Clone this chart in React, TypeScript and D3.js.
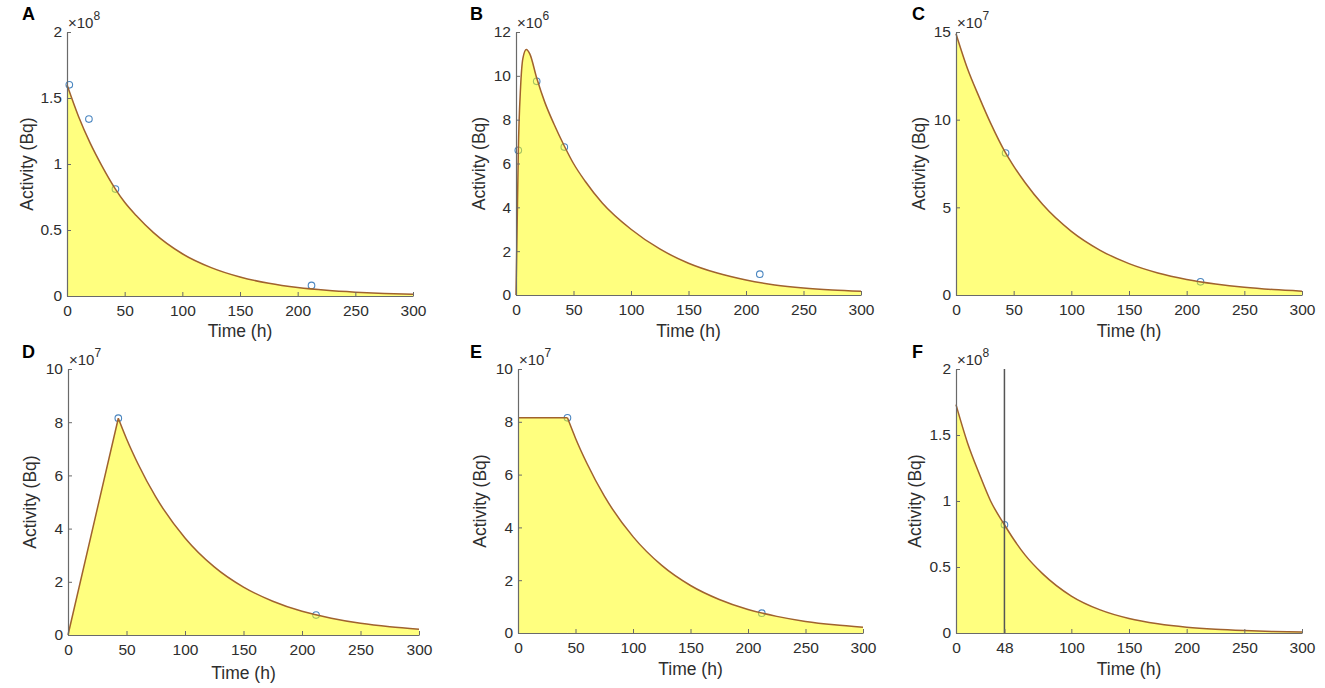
import React, { useRef, useEffect } from "react";
import * as d3 from "d3";

// Curves (activity in units of the panel's 10^n multiplier)
const timeA = [0, 10, 20, 30, 42, 50, 60, 75, 100, 125, 150, 175, 200, 225, 250, 275, 300];
const activityA = [1.6, 1.36, 1.16, 0.99, 0.81, 0.71, 0.61, 0.48, 0.32, 0.215, 0.144, 0.096, 0.064, 0.043, 0.029, 0.019, 0.013];
const measuredTimeA = [2, 19, 42, 212];
const measuredA = [1.6, 1.34, 0.81, 0.08];

const timeB = [0, 1, 2, 4, 6, 9, 12, 18, 25, 33, 42, 50, 60, 75, 100, 125, 150, 175, 200, 225, 250, 275, 300];
const activityB = [0, 3.2, 6.5, 9.5, 10.8, 11.2, 11.0, 9.9, 8.8, 7.8, 6.8, 6.0, 5.2, 4.2, 3.0, 2.1, 1.45, 1.0, 0.68, 0.46, 0.32, 0.23, 0.17];
const measuredTimeB = [2, 18, 42, 212];
const measuredB = [6.6, 9.75, 6.75, 0.95];

const timeC = [0, 10, 20, 30, 43, 50, 60, 75, 100, 125, 150, 175, 200, 225, 250, 275, 300];
const activityC = [14.9, 12.9, 11.3, 9.8, 8.1, 7.35, 6.4, 5.17, 3.63, 2.55, 1.79, 1.26, 0.89, 0.63, 0.44, 0.31, 0.22];
const measuredTimeC = [43, 212];
const measuredC = [8.1, 0.75];

const riseTimeD = [0, 43];
const riseD = [0, 8.15];
const decayTimeD = [43, 50, 60, 75, 100, 125, 150, 175, 200, 225, 250, 275, 300];
const decayD = [8.15, 7.38, 6.42, 5.19, 3.65, 2.56, 1.8, 1.27, 0.89, 0.63, 0.44, 0.31, 0.22];
const measuredTimeD = [43, 212];
const measuredD = [8.15, 0.75];

const flatTimeE = [0, 43];
const flatE = [8.15, 8.15];
const decayTimeE = [43, 50, 60, 75, 100, 125, 150, 175, 200, 225, 250, 275, 300];
const decayE = [8.15, 7.38, 6.42, 5.19, 3.65, 2.56, 1.8, 1.27, 0.89, 0.63, 0.44, 0.31, 0.22];
const measuredTimeE = [43, 212];
const measuredE = [8.15, 0.75];

const timeF = [0, 10, 20, 30, 42, 50, 60, 75, 100, 125, 150, 175, 200, 225, 250, 275, 300];
const activityF = [1.73, 1.44, 1.21, 1.0, 0.82, 0.71, 0.59, 0.45, 0.28, 0.175, 0.11, 0.07, 0.044, 0.028, 0.018, 0.011, 0.007];
const measuredTimeF = [42];
const measuredF = [0.82];
const markerTimeF = 42;

// Axis ticks
const timeTicks = [0, 50, 100, 150, 200, 250, 300];
const timeTicksF = [0, 42, 100, 150, 200, 250, 300];
const timeTickLabelsF = ["0", "48", "100", "150", "200", "250", "300"];
const yTicksA = [0, 0.5, 1, 1.5, 2];
const yTicksB = [0, 2, 4, 6, 8, 10, 12];
const yTicksC = [0, 5, 10, 15];
const yTicksDE = [0, 2, 4, 6, 8, 10];

interface Segment {
  t: number[];
  v: number[];
  smooth: boolean;
}

interface Panel {
  letter: string;
  left: number;
  right: number;
  top: number;
  bottom: number;
  letterX: number;
  ylabelGap: number;
  xlabelGap: number;
  yMax: number;
  yTicks: number[];
  exponent: number;
  xTicks: number[];
  xTickLabels?: string[];
  segments: Segment[];
  mt: number[];
  mv: number[];
  marker?: number;
}

const panels: Panel[] = [
  {
    letter: "A", left: 67, right: 413, top: 32, bottom: 296, letterX: 22, ylabelGap: 34, xlabelGap: 41,
    yMax: 2, yTicks: yTicksA, exponent: 8, xTicks: timeTicks,
    segments: [{ t: timeA, v: activityA, smooth: true }],
    mt: measuredTimeA, mv: measuredA,
  },
  {
    letter: "B", left: 516, right: 861, top: 32, bottom: 295, letterX: 470, ylabelGap: 31, xlabelGap: 42,
    yMax: 12, yTicks: yTicksB, exponent: 6, xTicks: timeTicks,
    segments: [{ t: timeB, v: activityB, smooth: true }],
    mt: measuredTimeB, mv: measuredB,
  },
  {
    letter: "C", left: 956, right: 1302, top: 32, bottom: 295, letterX: 912, ylabelGap: 31, xlabelGap: 42,
    yMax: 15, yTicks: yTicksC, exponent: 7, xTicks: timeTicks,
    segments: [{ t: timeC, v: activityC, smooth: true }],
    mt: measuredTimeC, mv: measuredC,
  },
  {
    letter: "D", left: 68, right: 419, top: 369, bottom: 635, letterX: 22, ylabelGap: 32, xlabelGap: 44,
    yMax: 10, yTicks: yTicksDE, exponent: 7, xTicks: timeTicks,
    segments: [
      { t: riseTimeD, v: riseD, smooth: false },
      { t: decayTimeD, v: decayD, smooth: true },
    ],
    mt: measuredTimeD, mv: measuredD,
  },
  {
    letter: "E", left: 518, right: 863, top: 369, bottom: 633, letterX: 470, ylabelGap: 32, xlabelGap: 42,
    yMax: 10, yTicks: yTicksDE, exponent: 7, xTicks: timeTicks,
    segments: [
      { t: flatTimeE, v: flatE, smooth: false },
      { t: decayTimeE, v: decayE, smooth: true },
    ],
    mt: measuredTimeE, mv: measuredE,
  },
  {
    letter: "F", left: 956, right: 1302, top: 369, bottom: 633, letterX: 912, ylabelGap: 35, xlabelGap: 42,
    yMax: 2, yTicks: yTicksA, exponent: 8, xTicks: timeTicksF, xTickLabels: timeTickLabelsF,
    segments: [{ t: timeF, v: activityF, smooth: true }],
    mt: measuredTimeF, mv: measuredF, marker: markerTimeF,
  },
];

const FONT = "'Liberation Sans', Arial, Helvetica, sans-serif";
const AXIS_COLOR = "#6a6a6a";
const TEXT_COLOR = "#2e2e2e";

const ActivityPanels: React.FC = () => {
  const ref = useRef<SVGSVGElement | null>(null);

  useEffect(() => {
    const root = d3.select(ref.current);
    root.selectAll("*").remove();

    panels.forEach((p) => {
      const g = root.append("g");
      const x = d3.scaleLinear().domain([0, 300]).range([p.left, p.right]);
      const y = d3.scaleLinear().domain([0, p.yMax]).range([p.bottom, p.top]);

      // Measured points (drawn under the translucent fill)
      g.append("g")
        .selectAll("circle")
        .data(p.mt.map((t, i) => ({ t, v: p.mv[i] })))
        .enter()
        .append("circle")
        .attr("cx", (d) => x(d.t))
        .attr("cy", (d) => y(d.v))
        .attr("r", 3.3)
        .attr("fill", "none")
        .attr("stroke", "#4a86c0")
        .attr("stroke-width", 1.1);

      // Area under the curve
      let areaD = "";
      let lineD = "";
      p.segments.forEach((s) => {
        const pts = s.t.map((t, i) => [t, s.v[i]] as [number, number]);
        const curve = s.smooth ? d3.curveMonotoneX : d3.curveLinear;
        const area = d3
          .area<[number, number]>()
          .x((d) => x(d[0]))
          .y0(y(0))
          .y1((d) => y(d[1]))
          .curve(curve);
        const line = d3
          .line<[number, number]>()
          .x((d) => x(d[0]))
          .y((d) => y(d[1]))
          .curve(curve);
        areaD += area(pts) ?? "";
        lineD += line(pts) ?? "";
      });

      g.append("path")
        .attr("d", areaD)
        .attr("fill", "#ffff00")
        .attr("fill-opacity", 0.5)
        .attr("stroke", "none");

      g.append("path")
        .attr("d", lineD)
        .attr("fill", "none")
        .attr("stroke", "#a0622e")
        .attr("stroke-width", 1.5);

      // Marker line in F
      if (p.marker !== undefined) {
        g.append("line")
          .attr("x1", x(p.marker))
          .attr("x2", x(p.marker))
          .attr("y1", y(0))
          .attr("y2", y(p.yMax))
          .attr("stroke", "#555")
          .attr("stroke-width", 1.5);
      }

      // Axes
      const yAxis = g
        .append("g")
        .attr("transform", `translate(${p.left},0)`)
        .call(
          d3
            .axisLeft(y)
            .tickValues(p.yTicks)
            .tickFormat((d) => String(d))
            .tickSizeInner(-4)
            .tickSizeOuter(0)
            .tickPadding(5) as any,
        );
      const xAxis = g
        .append("g")
        .attr("transform", `translate(0,${p.bottom})`)
        .call(
          d3
            .axisBottom(x)
            .tickValues(p.xTicks)
            .tickFormat((d, i) => (p.xTickLabels ? p.xTickLabels[i] : String(d)))
            .tickSizeInner(-4)
            .tickSizeOuter(0)
            .tickPadding(9) as any,
        );
      [yAxis, xAxis].forEach((a) => {
        a.select(".domain").attr("stroke", AXIS_COLOR).attr("stroke-width", 1.2);
        a.selectAll(".tick line").attr("stroke", AXIS_COLOR);
        a.selectAll("text")
          .attr("fill", TEXT_COLOR)
          .style("font-size", "15.5px")
          .style("font-family", FONT);
      });

      // Exponent multiplier
      const exp = g
        .append("text")
        .attr("x", p.left + 1)
        .attr("y", p.top - 4)
        .attr("fill", TEXT_COLOR)
        .style("font-size", "15px")
        .style("font-family", FONT);
      exp.append("tspan").text("×10");
      exp
        .append("tspan")
        .attr("dy", -8)
        .style("font-size", "12px")
        .text(String(p.exponent));

      // Axis labels
      g.append("text")
        .attr("text-anchor", "middle")
        .attr("x", (p.left + p.right) / 2)
        .attr("y", p.bottom + p.xlabelGap)
        .attr("fill", TEXT_COLOR)
        .style("font-size", "17.5px")
        .style("font-family", FONT)
        .text("Time (h)");
      g.append("text")
        .attr("text-anchor", "middle")
        .attr("transform", `translate(${p.left - p.ylabelGap},${(p.top + p.bottom) / 2}) rotate(-90)`)
        .attr("fill", TEXT_COLOR)
        .style("font-size", "17.5px")
        .style("font-family", FONT)
        .text("Activity (Bq)");

      // Panel letter
      g.append("text")
        .attr("x", p.letterX)
        .attr("y", p.top < 100 ? 20 : 358)
        .attr("fill", "#000")
        .style("font-size", "18px")
        .style("font-weight", "bold")
        .style("font-family", FONT)
        .text(p.letter);
    });
  }, []);

  return (
    <svg
      ref={ref}
      width={1325}
      height={688}
      style={{ position: "absolute", left: 0, top: 0, background: "#fff" }}
    />
  );
};

export default function App() {
  return <ActivityPanels />;
}
